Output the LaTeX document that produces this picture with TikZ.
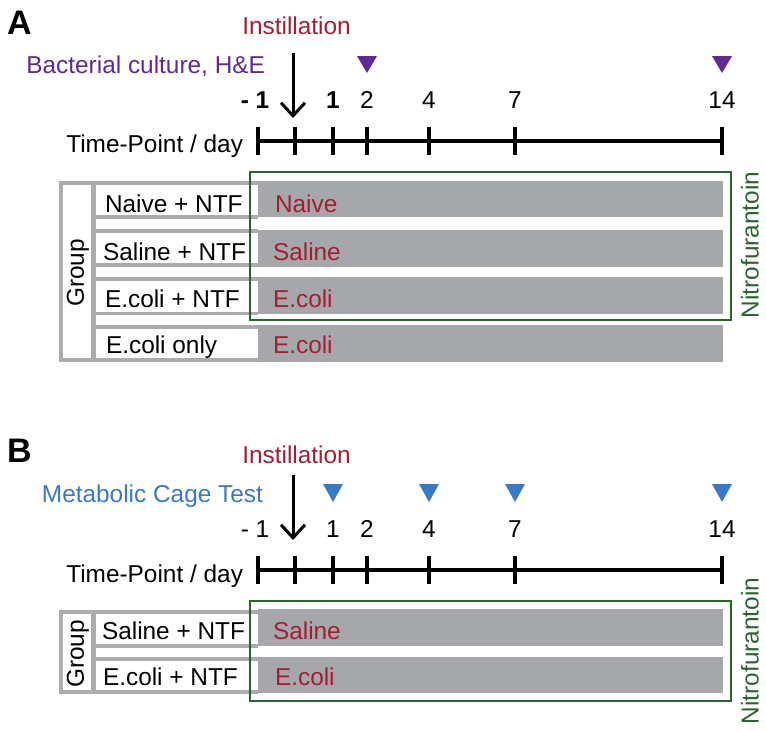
\documentclass[tikz,border=0pt]{standalone}
\usepackage{fontspec}
\setmainfont{Liberation Sans}
\usetikzlibrary{arrows.meta}
\definecolor{ired}{RGB}{163,31,48}
\definecolor{ipurple}{RGB}{95,42,145}
\definecolor{iblue}{RGB}{58,122,196}
\definecolor{igreen}{RGB}{42,100,45}
\definecolor{tgray}{RGB}{172,172,172}
\definecolor{bgray}{RGB}{166,167,171}
\begin{document}
\begin{tikzpicture}[x=1pt,y=-1pt,
  txt/.style={font=\fontsize{24.4}{28}\selectfont,inner sep=0pt,outer sep=0pt},
  panel/.style={font=\fontsize{34}{40}\selectfont\bfseries,inner sep=0pt,anchor=base west},
  tline/.style={line width=4.8pt,black},
  tgrid/.style={fill=tgray},
  cell/.style={fill=white},
  bar/.style={fill=bgray},
  gbox/.style={draw=igreen,line width=2.5pt},
  instarrow/.style={line width=3pt,-{Straight Barb[length=13pt,width=24pt,line width=3pt]}},
  tri/.style={draw=none}]
\useasboundingbox (0,0) rectangle (766,731);

% ================= Panel A =================
\node[panel] (labA) at (7,34) {A};
\node[txt,text=ired,anchor=base] (instA) at (296.5,34) {Instillation};
\node[txt,text=ipurple,anchor=base east] (bactA) at (265,73) {Bacterial culture, H\&E};
\coordinate (arrA1) at (293,53);
\coordinate (arrA2) at (293,118);
\draw[instarrow] (arrA1) -- (arrA2);
% triangles
\fill[ipurple] (357,56) -- (377,56) -- (367,73) -- cycle;
\fill[ipurple] (712,56) -- (732,56) -- (722,73) -- cycle;
% numbers
\node[txt,anchor=base] (nAm1) at (255,108) {\bfseries - 1};
\node[txt,anchor=base] (nA1) at (333,108) {\bfseries 1};
\node[txt,anchor=base] (nA2) at (367,108) {2};
\node[txt,anchor=base] (nA4) at (429,108) {4};
\node[txt,anchor=base] (nA7) at (515,108) {7};
\node[txt,anchor=base] (nA14) at (722,108) {14};
\node[txt,anchor=base east] (tpA) at (243,152) {Time-Point / day};
% timeline
\draw[tline] (258,141) -- (722,141);
\foreach \x in {258,295,333,367,429,515,722} \draw[tline] (\x,127) -- (\x,155);
% table
\fill[tgray] (59,181) rectangle (258,362);
\fill[cell] (63,185) rectangle (91,358);
\fill[cell] (96,185) rectangle (258,215);
\fill[cell] (96,218.5) rectangle (258,229);
\fill[cell] (96,233) rectangle (258,263);
\fill[cell] (96,266.5) rectangle (258,277);
\fill[cell] (96,281) rectangle (258,311.5);
\fill[cell] (96,315) rectangle (258,325);
\fill[cell] (96,328.5) rectangle (258,358);
% bars
\fill[bar] (258,181) rectangle (723,217);
\fill[bar] (258,230) rectangle (723,267);
\fill[bar] (258,277) rectangle (723,314);
\fill[bar] (258,325) rectangle (723,362);
\node[txt,rotate=90] (grpA) at (78,273) {Group};
\node[txt,anchor=base west] (rA1) at (105,212) {Naive + NTF};
\node[txt,anchor=base west] (rA2) at (103,260) {Saline + NTF};
\node[txt,anchor=base west] (rA3) at (105,307) {E.coli + NTF};
\node[txt,anchor=base west] (rA4) at (106,353) {E.coli only};
\node[txt,anchor=base west,text=ired] (bA1) at (275,212) {Naive};
\node[txt,anchor=base west,text=ired] (bA2) at (273,260) {Saline};
\node[txt,anchor=base west,text=ired] (bA3) at (273,307) {E.coli};
\node[txt,anchor=base west,text=ired] (bA4) at (273,353) {E.coli};
\draw[gbox] (250,172) rectangle (731,320);
\node[txt,rotate=90,text=igreen] (nitA) at (750,245) {Nitrofurantoin};

% ================= Panel B =================
\node[panel] (labB) at (7,462) {B};
\node[txt,text=ired,anchor=base] (instB) at (296.5,463) {Instillation};
\node[txt,text=iblue,anchor=base east] (metB) at (263,502) {Metabolic Cage Test};
\coordinate (arrB1) at (293,475);
\coordinate (arrB2) at (293,540);
\draw[instarrow] (arrB1) -- (arrB2);
\foreach \x in {333,429,515,722}
  \fill[iblue] (\x-10,484) -- (\x+10,484) -- (\x,502) -- cycle;
\node[txt,anchor=base] (nBm1) at (255,537) {- 1};
\node[txt,anchor=base] (nB1) at (333,537) {1};
\node[txt,anchor=base] (nB2) at (367,537) {2};
\node[txt,anchor=base] (nB4) at (429,537) {4};
\node[txt,anchor=base] (nB7) at (515,537) {7};
\node[txt,anchor=base] (nB14) at (722,537) {14};
\node[txt,anchor=base east] (tpB) at (243,582) {Time-Point / day};
\draw[tline] (258,570) -- (722,570);
\foreach \x in {258,295,333,367,429,515,722} \draw[tline] (\x,556) -- (\x,584);
% table
\fill[tgray] (59,610) rectangle (258,694);
\fill[cell] (63,614) rectangle (91,690);
\fill[cell] (96,614) rectangle (258,644);
\fill[cell] (96,647.5) rectangle (258,657);
\fill[cell] (96,661) rectangle (258,690);
\fill[bar] (258,609) rectangle (723,646);
\fill[bar] (258,657) rectangle (723,693);
\node[txt,rotate=90] (grpB) at (78,654) {Group};
\node[txt,anchor=base west] (rB1) at (102,639) {Saline + NTF};
\node[txt,anchor=base west] (rB2) at (103,685) {E.coli + NTF};
\node[txt,anchor=base west,text=ired] (bB1) at (273,639) {Saline};
\node[txt,anchor=base west,text=ired] (bB2) at (275,685) {E.coli};
\draw[gbox] (250,601) rectangle (731,701);
\node[txt,rotate=90,text=igreen] (nitB) at (750,651) {Nitrofurantoin};
\end{tikzpicture}
\end{document}
